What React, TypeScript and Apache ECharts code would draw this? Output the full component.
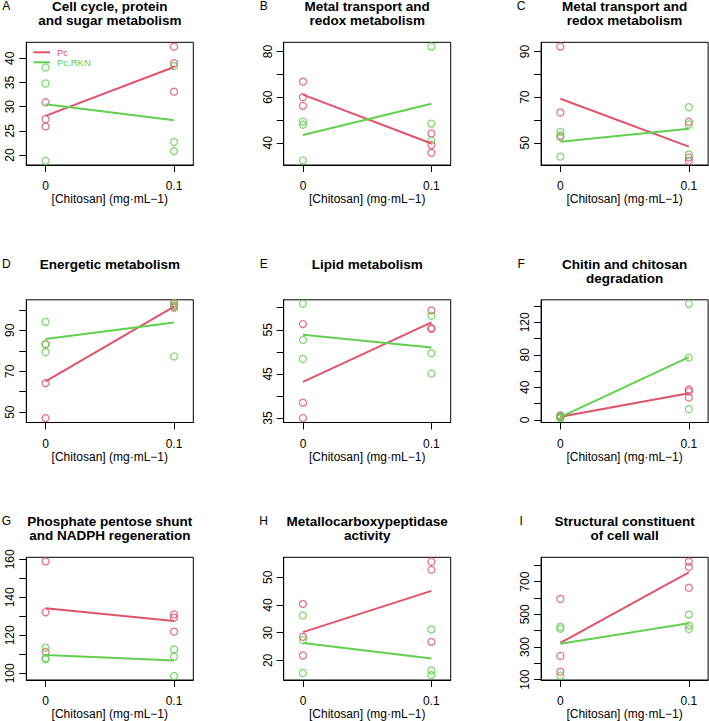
import React, { useEffect, useRef } from "react";
import * as echarts from "echarts";

const panelLetters = ["A", "B", "C", "D", "E", "F", "G", "H", "I"];
const panelTitles = [
  "Cell cycle, protein\nand sugar metabolism",
  "Metal transport and\nredox metabolism",
  "Metal transport and\nredox metabolism",
  "Energetic metabolism",
  "Lipid metabolism",
  "Chitin and chitosan\ndegradation",
  "Phosphate pentose shunt\nand NADPH regeneration",
  "Metallocarboxypeptidase\nactivity",
  "Structural constituent\nof cell wall",
];
const doses = [0, 0.1];
const doseLabels = ["0", "0.1"];
const xTitle = "[Chitosan] (mg·mL\u22121)";
const seriesNames = ["Pc", "Pc.RKN"];

// observed values (3 replicates) at dose 0 and dose 0.1
const pcCtrl = [
  [30.9, 27.4, 25.9],
  [66.8, 60.0, 56.2],
  [92.2, 63.3, 52.6],
  [83.2, 64.2, 47.1],
  [56.3, 38.5, 35.0],
  [5.5, 3.8, 2.2],
  [158.9, 132.1, 111.2],
  [40.4, 28.5, 21.8],
  [594, 245, 149],
];
const pcChit = [
  [42.4, 39.0, 33.1],
  [44.1, 39.0, 35.6],
  [59.2, 43.5, 42.0],
  [103.3, 102.1, 101.1],
  [59.4, 55.4, 55.2],
  [37.3, 34.9, 27.5],
  [131.0, 129.3, 121.9],
  [55.6, 52.7, 26.7],
  [822, 790, 663],
];
const rknCtrl = [
  [38.1, 34.8, 18.8],
  [49.3, 47.9, 32.3],
  [54.8, 53.3, 43.9],
  [94.1, 83.1, 79.3],
  [60.9, 52.7, 48.4],
  [4.8, 3.0, 2.5],
  [113.5, 108.0, 107.4],
  [36.2, 27.3, 15.5],
  [424, 412, 124],
];
const rknChit = [
  [38.4, 22.7, 20.8],
  [82.2, 48.4, 41.0],
  [65.6, 58.0, 44.9],
  [103.3, 101.6, 77.2],
  [58.2, 49.7, 45.1],
  [142.8, 76.7, 13.1],
  [112.6, 108.8, 98.6],
  [31.2, 16.4, 14.7],
  [498, 431, 410],
];
// fitted lines (value at dose 0, value at dose 0.1)
const pcFit = [
  [28.1, 38.2],
  [61.1, 39.7],
  [69.3, 48.3],
  [65.0, 101.6],
  [43.2, 56.7],
  [3.7, 32.8],
  [134.2, 127.5],
  [30.2, 45.1],
  [325, 757],
];
const rknFit = [
  [30.5, 27.2],
  [43.4, 57.1],
  [50.5, 56.1],
  [85.8, 93.8],
  [53.9, 51.0],
  [3.4, 77.1],
  [109.6, 106.8],
  [26.3, 20.7],
  [320, 445],
];
const yMin = [17.93, 30.25, 40.25, 44.95, 34.0, -3.3, 96.5, 12.95, 98];
const yMax = [43.31, 84.07, 94.07, 104.9, 61.8, 147.7, 161.05, 57.2, 849];
const yTicks = [
  [20, 25, 30, 35, 40],
  [40, 50, 60, 70, 80],
  [50, 60, 70, 80, 90],
  [50, 60, 70, 80, 90, 100],
  [35, 40, 45, 50, 55, 60],
  [0, 20, 40, 60, 80, 100, 120, 140],
  [100, 110, 120, 130, 140, 150, 160],
  [20, 30, 40, 50],
  [100, 200, 300, 400, 500, 600, 700, 800],
];
const yLabels = [
  [20, 25, 30, 35, 40],
  [40, 60, 80],
  [50, 70, 90],
  [50, 70, 90],
  [35, 45, 55],
  [0, 40, 80, 120],
  [100, 120, 140, 160],
  [20, 30, 40, 50],
  [100, 300, 500, 700],
];

const RED = "#DF536B";
const GREEN = "#61D04F";
const FONT = "'Liberation Sans', Arial, Helvetica, sans-serif";

const BOX_LEFT0 = 26.3;
const BOX_TOP0 = 42.3;
const STEP_X = 257.4;
const STEP_Y = 257.5;
const BOX_W = 167;
const BOX_H = 122.7;

export default function App() {
  const ref = useRef<HTMLDivElement>(null);
  useEffect(() => {
    if (!ref.current) return;
    const chart = echarts.init(ref.current, null, { renderer: "svg" });
    const grids: any[] = [];
    const xAxes: any[] = [];
    const yAxes: any[] = [];
    const series: any[] = [];
    const graphics: any[] = [];

    for (let i = 0; i < 9; i++) {
      const c = i % 3;
      const r = Math.floor(i / 3);
      const left = BOX_LEFT0 + STEP_X * c;
      const top = BOX_TOP0 + STEP_Y * r;
      grids.push({
        left,
        top,
        width: BOX_W,
        height: BOX_H,
        show: true,
        borderColor: "#000",
        borderWidth: 1,
        backgroundColor: "transparent",
        containLabel: false,
      });
      xAxes.push({
        gridIndex: i,
        type: "value",
        min: -0.015,
        max: 0.115,
        axisLine: { show: true, onZero: false, lineStyle: { color: "#000", width: 1 } },
        axisTick: {
          show: true,
          customValues: doses,
          length: 7,
          lineStyle: { color: "#000", width: 1 },
        },
        axisLabel: {
          customValues: doses,
          formatter: (v: number) => doseLabels[doses.indexOf(v)] ?? String(v),
          margin: 15,
          fontSize: 12,
          color: "#000",
          fontFamily: FONT,
        },
        splitLine: { show: false },
        name: xTitle,
        nameLocation: "middle",
        nameGap: 28,
        nameTextStyle: { fontSize: 12, color: "#000", fontFamily: FONT },
      });
      yAxes.push({
        gridIndex: i,
        type: "value",
        min: yMin[i],
        max: yMax[i],
        axisLine: { show: true, onZero: false, lineStyle: { color: "#000", width: 1 } },
        axisTick: {
          show: true,
          customValues: yTicks[i],
          length: 7,
          lineStyle: { color: "#000", width: 1 },
        },
        axisLabel: {
          customValues: yLabels[i],
          rotate: 90,
          margin: 10,
          fontSize: 12,
          color: "#000",
          fontFamily: FONT,
        },
        splitLine: { show: false },
      });
      const groups = [
        { name: seriesNames[0], ctrl: pcCtrl[i], chit: pcChit[i], fit: pcFit[i], color: RED },
        { name: seriesNames[1], ctrl: rknCtrl[i], chit: rknChit[i], fit: rknFit[i], color: GREEN },
      ];
      groups.forEach((g) => {
        series.push({
          type: "scatter",
          name: g.name,
          xAxisIndex: i,
          yAxisIndex: i,
          symbol: "circle",
          symbolSize: 7,
          itemStyle: { color: "transparent", borderColor: g.color, borderWidth: 1.3 },
          data: [
            ...g.ctrl.map((v) => [doses[0], v]),
            ...g.chit.map((v) => [doses[1], v]),
          ],
          silent: true,
        });
      });
      groups.forEach((g) => {
        series.push({
          type: "line",
          name: g.name,
          xAxisIndex: i,
          yAxisIndex: i,
          showSymbol: false,
          lineStyle: { color: g.color, width: 2 },
          itemStyle: { color: g.color },
          data: [
            [doses[0], g.fit[0]],
            [doses[1], g.fit[1]],
          ],
          silent: true,
        });
      });

      graphics.push({
        type: "text",
        x: left + BOX_W / 2,
        y: top - 42.5,
        style: {
          text: panelTitles[i],
          align: "center",
          verticalAlign: "top",
          lineHeight: 14,
          font: `bold 13.5px ${FONT}`,
          fill: "#000",
        },
      });
      graphics.push({
        type: "text",
        x: left - 20,
        y: top - 36,
        style: {
          text: panelLetters[i],
          align: "center",
          verticalAlign: "middle",
          font: `12px ${FONT}`,
          fill: "#000",
        },
      });
    }

    // legend in panel A
    const legendColors = [RED, GREEN];
    seriesNames.forEach((n, k) => {
      const y = 52.3 + 10 * k;
      graphics.push({
        type: "line",
        shape: { x1: 33.3, y1: y, x2: 50, y2: y },
        style: { stroke: legendColors[k], lineWidth: 2 },
      });
      graphics.push({
        type: "text",
        x: 57,
        y,
        style: {
          text: n,
          align: "left",
          verticalAlign: "middle",
          font: `9.5px ${FONT}`,
          fill: legendColors[k],
        },
      });
    });

    chart.setOption({
      animation: false,
      backgroundColor: "#fff",
      textStyle: { fontFamily: FONT },
      grid: grids,
      xAxis: xAxes,
      yAxis: yAxes,
      series,
      graphic: graphics,
    });
    return () => chart.dispose();
  }, []);
  return (
    <div
      ref={ref}
      style={{ position: "absolute", left: 0, top: 0, width: 709, height: 721 }}
    />
  );
}
